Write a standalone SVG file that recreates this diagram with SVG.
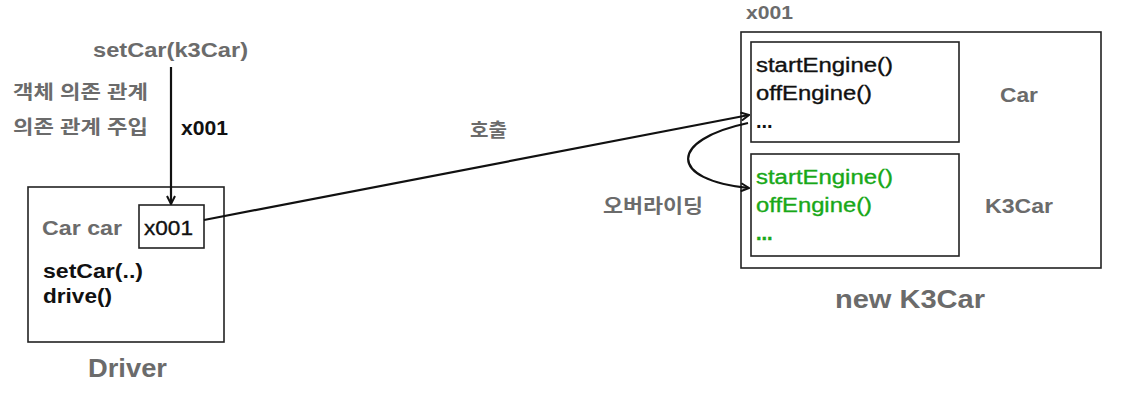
<svg xmlns="http://www.w3.org/2000/svg" width="1124" height="400" viewBox="0 0 1124 400">
<style>
text{font-family:"Liberation Sans","Noto Sans CJK KR",Arial,sans-serif;}
.g{fill:#6b6b6b;font-weight:bold;}
.k{fill:#111;font-weight:bold;}
.m{fill:#111;stroke:#111;stroke-width:0.35;}
.gr{fill:#18a818;stroke:#18a818;stroke-width:0.35;}
.box{fill:#fff;stroke:#222;stroke-width:1.6;}
.ln{fill:none;stroke:#111;stroke-width:2.2;}
</style>
<defs>
<marker id="ah" viewBox="0 0 10 10" refX="9" refY="5" markerWidth="10" markerHeight="10" markerUnits="userSpaceOnUse" orient="auto">
<path d="M1,1 L9,5 L1,9" fill="none" stroke="#111" stroke-width="2"/>
</marker>
</defs>
<rect width="1124" height="400" fill="#fff"/>
<g id="labels-left">
<text class="g" x="93" y="57" font-size="20" textLength="155" lengthAdjust="spacingAndGlyphs">setCar(k3Car)</text>
<text class="g" x="13" y="99" font-size="19" textLength="135" lengthAdjust="spacingAndGlyphs">객체 의존 관계</text>
<text class="g" x="13" y="134" font-size="19" textLength="135" lengthAdjust="spacingAndGlyphs">의존 관계 주입</text>
<text class="k" x="181" y="135" font-size="20" textLength="47" lengthAdjust="spacingAndGlyphs">x001</text>
</g>
<g id="driver">
<rect class="box" x="28" y="187" width="196" height="155"/>
<text class="g" x="42" y="235" font-size="20" textLength="80" lengthAdjust="spacingAndGlyphs">Car car</text>
<text class="k" x="43" y="278" font-size="20" textLength="100" lengthAdjust="spacingAndGlyphs">setCar(..)</text>
<text class="k" x="43" y="303" font-size="20" textLength="69" lengthAdjust="spacingAndGlyphs">drive()</text>
<text class="g" x="88" y="377" font-size="25" textLength="79" lengthAdjust="spacingAndGlyphs">Driver</text>
</g>
<g id="car-ref">
<rect class="box" x="139" y="205" width="65" height="43"/>
<text class="m" x="144" y="235" font-size="20" textLength="49" lengthAdjust="spacingAndGlyphs">x001</text>
</g>
<g id="k3car">
<text class="g" x="746" y="19" font-size="19" textLength="47" lengthAdjust="spacingAndGlyphs">x001</text>
<rect class="box" x="741" y="32" width="360" height="236"/>
<text class="g" x="835" y="308" font-size="25" textLength="150" lengthAdjust="spacingAndGlyphs">new K3Car</text>
</g>
<g id="car-part">
<rect class="box" x="751" y="42" width="208" height="100"/>
<text class="m" x="756" y="72" font-size="20" textLength="137" lengthAdjust="spacingAndGlyphs">startEngine()</text>
<text class="m" x="756" y="100" font-size="20" textLength="116" lengthAdjust="spacingAndGlyphs">offEngine()</text>
<text class="k" x="756" y="128" font-size="20">...</text>
<text class="g" x="1000" y="102" font-size="20" textLength="38" lengthAdjust="spacingAndGlyphs">Car</text>
</g>
<g id="k3car-part">
<rect class="box" x="751" y="154" width="208" height="102"/>
<text class="gr" x="756" y="184" font-size="20" textLength="137" lengthAdjust="spacingAndGlyphs">startEngine()</text>
<text class="gr" x="756" y="212" font-size="20" textLength="116" lengthAdjust="spacingAndGlyphs">offEngine()</text>
<text class="gr" x="756" y="240" font-size="20" font-weight="bold">...</text>
<text class="g" x="985" y="213" font-size="20" textLength="68" lengthAdjust="spacingAndGlyphs">K3Car</text>
</g>
<g id="connectors">
<line class="ln" x1="171" y1="67" x2="171" y2="204" marker-end="url(#ah)"/>
<line class="ln" x1="204" y1="220" x2="749" y2="115" marker-end="url(#ah)"/>
<path class="ln" d="M748,123 C668,140 668,180 749,188" marker-end="url(#ah)"/>
<text class="g" x="470" y="137" font-size="19" textLength="37" lengthAdjust="spacingAndGlyphs">호출</text>
<text class="g" x="603" y="213" font-size="19" textLength="100" lengthAdjust="spacingAndGlyphs">오버라이딩</text>
</g>
</svg>
